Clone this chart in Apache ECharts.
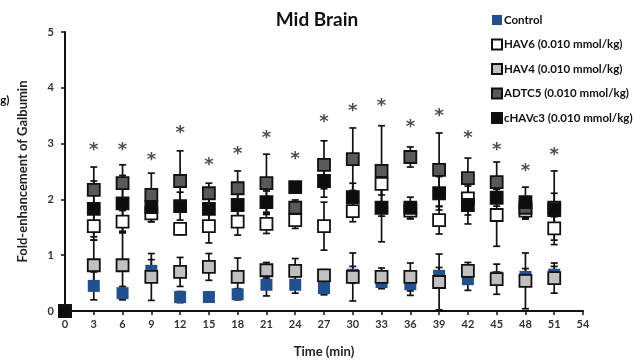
<!DOCTYPE html>
<html>
<head>
<meta charset="utf-8">
<script src="https://cdn.jsdelivr.net/npm/echarts@6/dist/echarts.min.js"></script>
<style>html,body{margin:0;padding:0;background:#fff;}#c{width:635px;height:363px;}</style>
</head>
<body>
<div id="c"></div>
<script>
const times = [0,3,6,9,12,15,18,21,24,27,30,33,36,39,42,45,48,51];
const xTicks = [0,3,6,9,12,15,18,21,24,27,30,33,36,39,42,45,48,51,54];
const seriesNames = ['Control','HAV6 (0.010 mmol/kg)','HAV4 (0.010 mmol/kg)','ADTC5 (0.010 mmol/kg)','cHAVc3 (0.010 mmol/kg)'];

const control    = [0,0.45,0.32,0.72,0.25,0.25,0.30,0.47,0.47,0.41,0.65,0.52,0.48,0.63,0.57,0.60,0.61,0.65];
const controlErr = [0,0.25,0.12,0.20,0.10,0.08,0.10,0.20,0.15,0.12,0.15,0.12,0.20,0.15,0.20,0.10,0.15,0.15];

const hav6       = [0,1.52,1.60,1.75,1.47,1.52,1.60,1.56,1.63,1.52,1.79,2.28,1.80,1.63,2.02,1.72,1.80,1.48];
const hav6Err    = [0,0.25,0.20,0.15,0.10,0.30,0.24,0.17,0.15,0.43,0.19,0.20,0.15,0.25,0.30,0.56,0.15,0.21];

const hav4       = [0,0.82,0.82,0.61,0.70,0.79,0.61,0.73,0.72,0.64,0.61,0.61,0.61,0.52,0.72,0.57,0.54,0.59];
const hav4Err    = [0,0.45,0.59,0.42,0.26,0.24,0.34,0.14,0.22,0.10,0.43,0.16,0.25,0.50,0.15,0.27,0.50,0.27];

const adtc5      = [0,2.17,2.29,2.08,2.33,2.11,2.20,2.29,1.85,2.62,2.72,2.51,2.76,2.53,2.38,2.31,1.85,1.85];
const adtc5Err   = [0,0.41,0.33,0.39,0.54,0.18,0.31,0.52,0.14,0.43,0.56,0.81,0.18,0.66,0.36,0.36,0.20,0.66];

const chavc3     = [0,1.83,1.93,1.86,1.88,1.83,1.90,1.95,2.22,2.33,2.04,1.85,1.85,2.11,1.90,2.03,1.95,1.81];
const chavc3Err  = [0,0.50,0.50,0.26,0.25,0.30,0.20,0.20,0.05,0.29,0.25,0.61,0.19,0.30,0.34,0.15,0.27,0.30];

const stars      = [null,2.94,2.94,2.76,3.24,2.66,2.86,3.14,2.77,3.44,3.64,3.72,3.35,3.55,3.14,2.94,2.56,2.85];

const fills = ['#22508f','#ffffff','#c0c0c0','#595959','#0d0d0d'];
const means = [control, hav6, hav4, adtc5, chavc3];
const errs  = [controlErr, hav6Err, hav4Err, adtc5Err, chavc3Err];

const FONT = 'Lato';

const chart = echarts.init(document.getElementById('c'), null, {renderer:'canvas'});

function errSeries(i) {
  return {
    type: 'custom',
    name: seriesNames[i] + ' err',
    z: 1,
    silent: true,
    data: times.map((t, k) => [t, means[i][k], errs[i][k]]),
    renderItem: function (params, api) {
      const x = api.value(0), m = api.value(1), e = api.value(2);
      if (!e) return null;
      const top = api.coord([x, m + e]);
      const bot = api.coord([x, Math.max(0, m - e)]);
      const w = 3.5;
      const st = {stroke: '#111', lineWidth: 1.7};
      return {
        type: 'group',
        children: [
          {type: 'line', shape: {x1: top[0], y1: top[1], x2: bot[0], y2: bot[1]}, style: st},
          {type: 'line', shape: {x1: top[0] - w, y1: top[1], x2: top[0] + w, y2: top[1]}, style: st},
          {type: 'line', shape: {x1: bot[0] - w, y1: bot[1], x2: bot[0] + w, y2: bot[1]}, style: st}
        ]
      };
    }
  };
}

function markerSeries(i) {
  return {
    type: 'scatter',
    name: seriesNames[i],
    z: 3 + i,
    symbol: 'rect',
    symbolSize: 12,
    data: times.map((t, k) => [t, means[i][k]]),
    itemStyle: {
      color: fills[i],
      borderColor: i === 0 ? fills[0] : '#111',
      borderWidth: i === 0 ? 0 : 1.8,
      opacity: 1
    }
  };
}

const series = [];
for (let i = 0; i < 5; i++) series.push(errSeries(i));
for (let i = 0; i < 5; i++) series.push(markerSeries(i));
series.push({
  type: 'scatter',
  name: 'stars',
  z: 10,
  symbolSize: 1,
  itemStyle: {color: 'rgba(0,0,0,0)'},
  data: times.map((t, k) => stars[k] == null ? null : [t, stars[k]]).filter(d => d),
  label: {
    show: true,
    position: 'inside',
    formatter: '*',
    fontFamily: 'DejaVu Sans',
    fontWeight: 'bold',
    fontSize: 18,
    color: '#222',
    offset: [0, 3]
  }
});

chart.setOption({
  animation: false,
  backgroundColor: '#fff',
  title: {
    text: 'Mid Brain',
    left: 312,
    textAlign: 'center',
    top: 5,
    textStyle: {fontFamily: FONT, fontWeight: 'bold', fontSize: 19, color: '#111'}
  },
  legend: {
    data: seriesNames,
    orient: 'vertical',
    left: 487,
    top: 12,
    itemWidth: 10,
    itemHeight: 10,
    itemGap: 12.5,
    icon: 'rect',
    backgroundColor: '#fff',
    padding: [2, 4, 4, 4],
    textStyle: {fontFamily: FONT, fontWeight: 'bold', fontSize: 11.5, color: '#111', padding: [0, 0, 0, -3]}
  },
  grid: {left: 65, right: 52, top: 32, bottom: 52, containLabel: false},
  xAxis: {
    type: 'value',
    min: 0, max: 54, interval: 3,
    name: 'Time (min)',
    nameLocation: 'middle',
    nameGap: 34,
    nameTextStyle: {fontFamily: FONT, fontWeight: 'bold', fontSize: 13, color: '#222'},
    axisLine: {lineStyle: {color: '#111', width: 2}},
    axisTick: {show: true, length: 4, lineStyle: {color: '#111', width: 1.5}},
    axisLabel: {fontFamily: FONT, fontWeight: 'bold', fontSize: 11, color: '#333', margin: 8,
      formatter: v => xTicks.includes(v) ? String(v) : ''},
    splitLine: {show: false}
  },
  yAxis: {
    type: 'value',
    min: 0, max: 5, interval: 1,
    name: 'Fold-enhancement of Galbumin',
    nameLocation: 'middle',
    nameGap: 36,
    nameTextStyle: {fontFamily: FONT, fontWeight: 'bold', fontSize: 13, color: '#222'},
    axisLine: {show: true, lineStyle: {color: '#111', width: 2}},
    axisTick: {show: true, length: 4, lineStyle: {color: '#111', width: 1.5}},
    axisLabel: {fontFamily: FONT, fontWeight: 'bold', fontSize: 11, color: '#333', margin: 11},
    splitLine: {show: false}
  },
  graphic: [
    {type: 'text', left: -6, top: 94, style: {text: 'kg)', fontFamily: FONT, fontWeight: 'bold', fontSize: 11.5, fill: '#111'}}
  ],
  series: series
});
</script>
</body>
</html>
